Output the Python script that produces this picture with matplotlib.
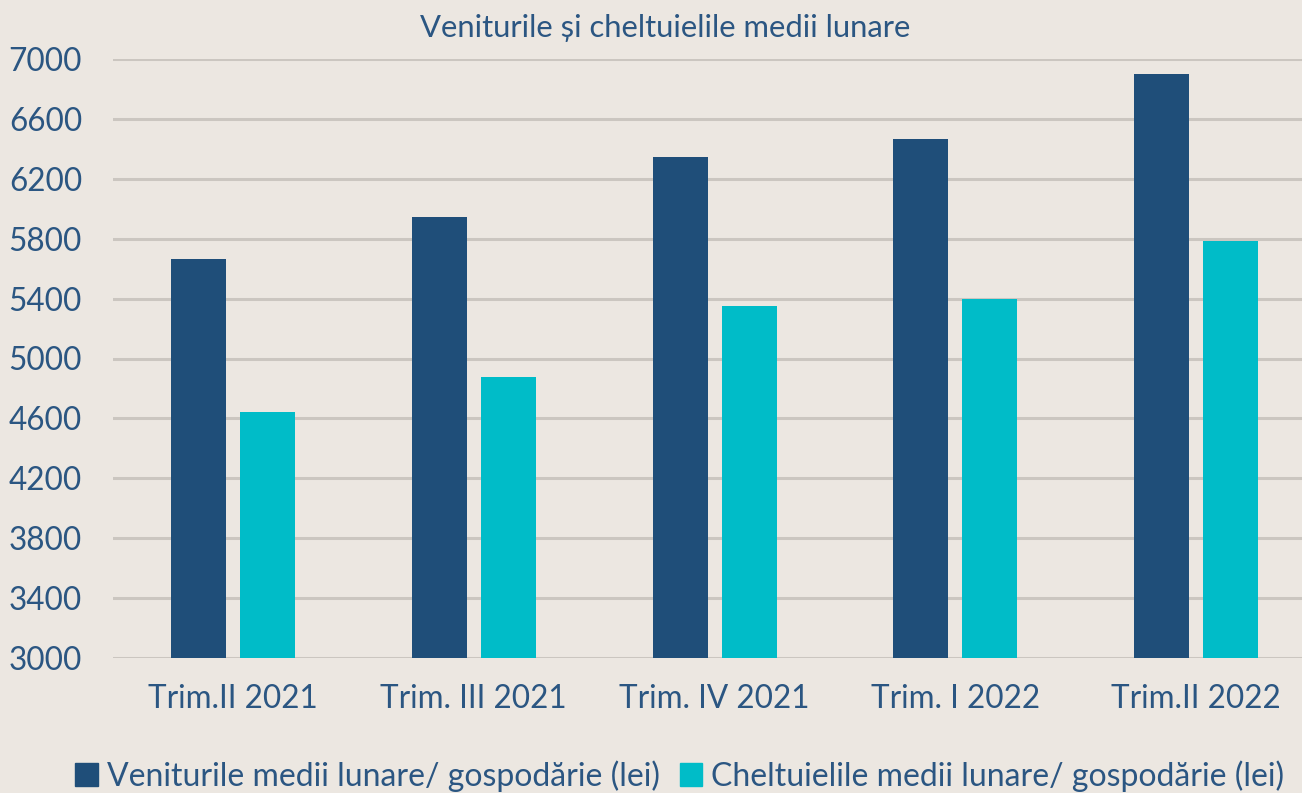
import matplotlib
matplotlib.use("Agg")
import matplotlib.pyplot as plt
import numpy as np
from matplotlib.patches import Rectangle

categories = ["Trim.II 2021", "Trim. III 2021", "Trim. IV 2021", "Trim. I 2022", "Trim.II 2022"]
venituri = [5665, 5945, 6345, 6465, 6900]
cheltuieli = [4643, 4876, 5350, 5397, 5785]
series_names = ["Veniturile medii lunare/ gospodărie (lei)", "Cheltuielile medii lunare/ gospodărie (lei)"]
title = "Veniturile și cheltuielile medii lunare"
yticks = [3000, 3400, 3800, 4200, 4600, 5000, 5400, 5800, 6200, 6600, 7000]

BG = "#ECE7E1"
DARK = "#1F4E79"
LIGHT = "#00BCC8"
TXT = "#2B5682"
GRID = "#CBC6C0"

plt.rcParams['font.family'] = ['Lato', 'DejaVu Sans']

fig = plt.figure(figsize=(13.02, 7.93), dpi=100, facecolor=BG)
ax = fig.add_axes([112.6/1302, 135/793, 1204/1302, 599/793])
ax.set_facecolor(BG)

x = np.arange(len(categories))
w = 0.228
off = 0.1433
ax.bar(x - off, venituri, w, color=DARK, zorder=3)
ax.bar(x + off, cheltuieli, w, color=LIGHT, zorder=3)

ax.set_xlim(-0.5, len(categories) - 0.5)
ax.set_ylim(3000, 7000)
ax.set_yticks(yticks)
ax.set_yticklabels([str(v) for v in yticks])
ax.set_xticks(x)
ax.set_xticklabels(categories)
ax.tick_params(axis='both', length=0, labelsize=22.7, labelcolor=TXT)
ax.tick_params(axis='y', pad=22)
ax.tick_params(axis='x', pad=19)
ax.yaxis.grid(True, color=GRID, linewidth=2.2, zorder=0)
ax.set_axisbelow(True)
for s in ax.spines.values():
    s.set_visible(False)

fig.text(665/1302, 1 - 28/793, title, ha='center', va='center', fontsize=22.3, color=TXT)

handles = [Rectangle((0, 0), 1, 1, color=DARK), Rectangle((0, 0), 1, 1, color=LIGHT)]
leg = fig.legend(handles, series_names, loc='center', bbox_to_anchor=(680/1302, 1 - 776/793),
                 ncol=2, frameon=False, fontsize=23, labelcolor=TXT,
                 handlelength=0.7, handleheight=0.7, handletextpad=0.3, columnspacing=0.6)

fig.savefig("out.png", dpi=100, facecolor=BG)
